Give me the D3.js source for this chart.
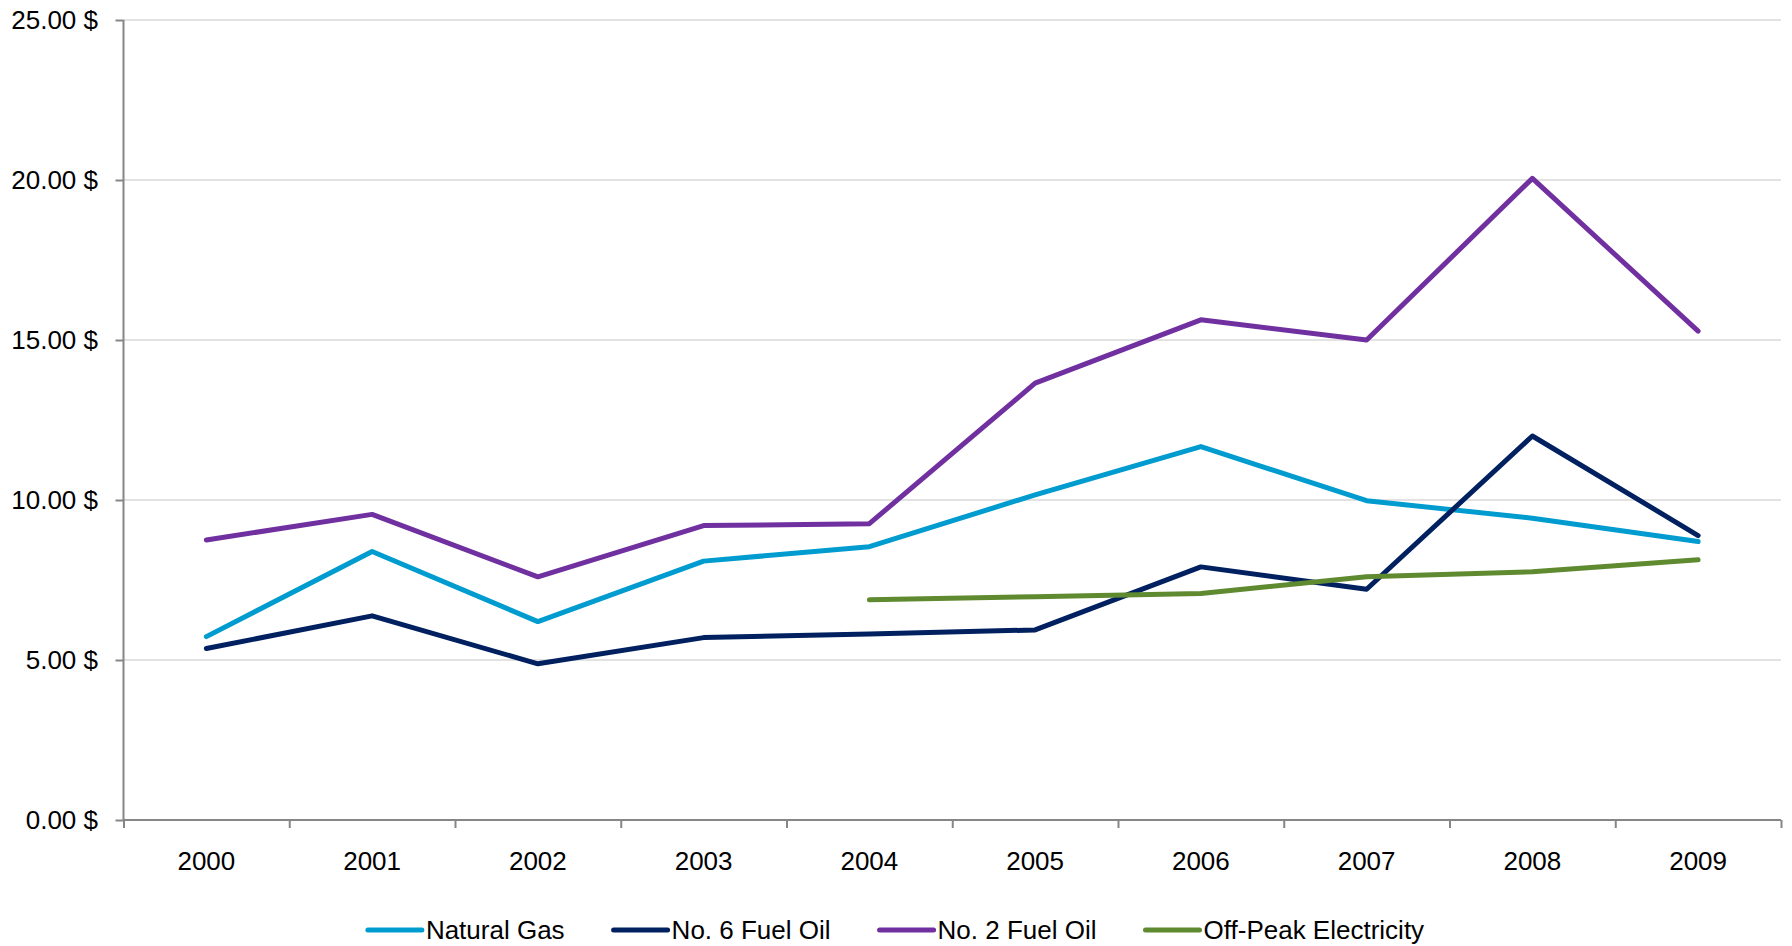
<!DOCTYPE html>
<html>
<head>
<meta charset="utf-8">
<script src="https://cdn.jsdelivr.net/npm/d3@7"></script>
<style>
    body { margin: 0; background: #fff; }
    text { font-family: "Liberation Sans", Arial, sans-serif; fill: #000; }
</style>
</head>
<body>
<svg id="chart" width="1792" height="946"></svg>
<script>
// values, $ per unit
var years = ['2000', '2001', '2002', '2003', '2004', '2005', '2006', '2007', '2008', '2009'];
var naturalGas = [5.73, 8.39, 6.20, 8.09, 8.54, 10.16, 11.67, 9.98, 9.43, 8.70];
var fuelOil6 = [5.36, 6.38, 4.88, 5.70, 5.81, 5.94, 7.91, 7.21, 12.00, 8.89];
var fuelOil2 = [8.75, 9.55, 7.60, 9.20, 9.26, 13.65, 15.63, 15.00, 20.05, 15.28];
var offPeak = [null, null, null, null, 6.88, 6.98, 7.08, 7.60, 7.76, 8.13];
var yTicks = [0, 5, 10, 15, 20, 25];

var seriesNames = ['Natural Gas', 'No. 6 Fuel Oil', 'No. 2 Fuel Oil', 'Off-Peak Electricity'];
var seriesValues = [naturalGas, fuelOil6, fuelOil2, offPeak];
var seriesColors = ['#009BCF', '#002060', '#7030A0', '#5F8A30'];

var w = 1792, h = 946;
var margin = {top: 20, right: 11, bottom: 126, left: 123.5};
var plotW = w - margin.left - margin.right;
var plotH = h - margin.top - margin.bottom;

var svg = d3.select('#chart');
var g = svg.append('g')
    .attr('transform', 'translate(' + margin.left + ',' + margin.top + ')');

var xScale = d3.scaleBand()
    .domain(years)
    .range([0, plotW]);
var bw = xScale.bandwidth();

var yScale = d3.scaleLinear()
    .domain([0, 25])
    .range([plotH, 0]);

// gridlines
g.append('g').selectAll('line')
    .data(yTicks.filter(function (d) { return d > 0; }))
    .enter().append('line')
    .attr('x1', 0)
    .attr('x2', plotW)
    .attr('y1', function (d) { return yScale(d); })
    .attr('y2', function (d) { return yScale(d); })
    .attr('stroke', '#D9D9D9')
    .attr('stroke-width', 1.5);

// y axis
var yAxis = d3.axisLeft(yScale)
    .tickValues(yTicks)
    .tickSize(8)
    .tickPadding(17.5)
    .tickFormat(function (d) { return d3.format('.2f')(d) + ' $'; });

var yG = g.append('g').call(yAxis);
yG.select('.domain').attr('stroke', '#868686').attr('stroke-width', 2).attr('d', 'M0,0V' + plotH);
yG.selectAll('.tick line').attr('stroke', '#868686').attr('stroke-width', 2);
yG.selectAll('.tick text')
    .style('font-size', '26px')
    .style('font-family', '"Liberation Sans", Arial, sans-serif')
    .attr('fill', '#000');

// x axis: ticks on the band edges, labels on the band centres
var edgeScale = d3.scaleLinear().domain([0, years.length]).range([0, plotW]);
var xAxis = d3.axisBottom(edgeScale)
    .tickValues(d3.range(years.length + 1))
    .tickSize(8)
    .tickFormat('');

var xG = g.append('g')
    .attr('transform', 'translate(0,' + plotH + ')')
    .call(xAxis);
xG.select('.domain').attr('stroke', '#868686').attr('stroke-width', 2).attr('d', 'M0,0H' + plotW);
xG.selectAll('.tick line').attr('stroke', '#868686').attr('stroke-width', 2);

g.append('g').selectAll('text')
    .data(years)
    .enter().append('text')
    .attr('x', function (d) { return xScale(d) + bw / 2; })
    .attr('y', plotH + 50)
    .attr('text-anchor', 'middle')
    .style('font-size', '26px')
    .text(function (d) { return d; });

// lines
var line = d3.line()
    .defined(function (d) { return d != null; })
    .x(function (d, i) { return xScale(years[i]) + bw / 2; })
    .y(function (d) { return yScale(d); });

g.append('g').selectAll('path')
    .data(seriesValues)
    .enter().append('path')
    .attr('d', function (d) { return line(d); })
    .attr('fill', 'none')
    .attr('stroke', function (d, i) { return seriesColors[i]; })
    .attr('stroke-width', 5)
    .attr('stroke-linejoin', 'round')
    .attr('stroke-linecap', 'round');

// legend, centred on the page
var legendY = 930;
var lineLen = 54, textGap = 4, itemGap = 49;
var legend = svg.append('g');
var items = legend.selectAll('g')
    .data(seriesNames)
    .enter().append('g');

items.append('line')
    .attr('x1', 0)
    .attr('x2', lineLen)
    .attr('y1', 0)
    .attr('y2', 0)
    .attr('stroke', function (d, i) { return seriesColors[i]; })
    .attr('stroke-width', 5)
    .attr('stroke-linecap', 'round');

items.append('text')
    .attr('x', lineLen + textGap)
    .attr('dy', '0.35em')
    .style('font-size', '26px')
    .text(function (d) { return d; });

var offsets = [];
var total = 0;
items.each(function (d, i) {
    var tw = d3.select(this).select('text').node().getComputedTextLength();
    offsets.push(total);
    total += lineLen + textGap + tw + (i < seriesNames.length - 1 ? itemGap : 0);
});
var startX = (w - total) / 2;
items.attr('transform', function (d, i) {
    return 'translate(' + (startX + offsets[i]) + ',' + legendY + ')';
});
</script>
</body>
</html>
